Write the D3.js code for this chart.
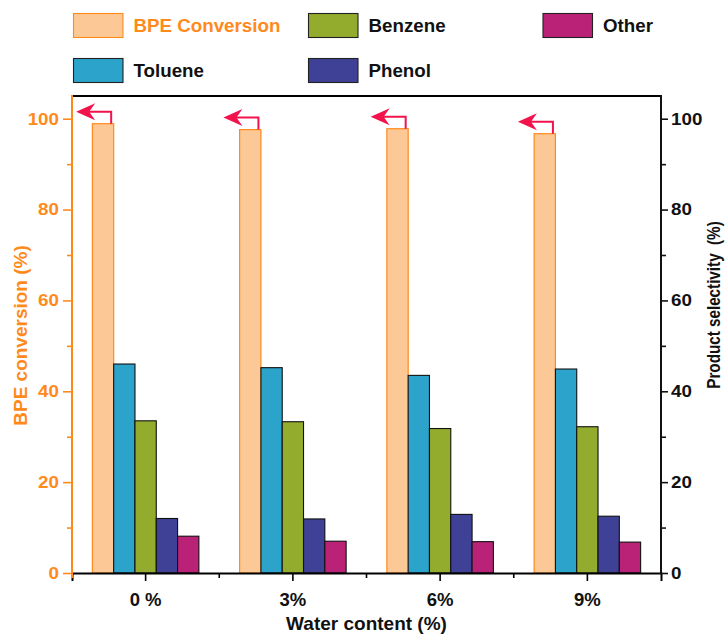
<!DOCTYPE html>
<html>
<head>
<meta charset="utf-8">
<script src="https://cdn.jsdelivr.net/npm/d3@7"></script>
<style>
  html, body { margin: 0; padding: 0; background: #fff; }
  svg text { font-family: "Liberation Sans", Arial, Helvetica, sans-serif; font-weight: bold; }
</style>
</head>
<body>
<svg id="chart" width="725" height="634"></svg>
<script>
// Water content levels (x categories)
const categories = ["0 %", "3%", "6%", "9%"];

// BPE conversion (%), left axis
const conversion = [98.9, 97.6, 97.8, 96.7];

// Product selectivity (%), right axis
const toluene = [46.0, 45.2, 43.5, 44.9];
const benzene = [33.5, 33.3, 31.8, 32.2];
const phenol  = [12.0, 11.9, 12.9, 12.5];
const other   = [8.1, 7.0, 6.9, 6.8];

const seriesNames = ["BPE Conversion", "Toluene", "Benzene", "Phenol", "Other"];
const majorTicks = [0, 20, 40, 60, 80, 100];
const minorTicks = [10, 30, 50, 70, 90];

const xTitle = "Water content (%)";
const leftTitle = "BPE conversion (%)";
const rightTitle = "Product selectivity  (%)";

const colors = {
  "BPE Conversion": "#FCC996",
  "Toluene": "#2BA3CB",
  "Benzene": "#93AC2D",
  "Phenol": "#3E4196",
  "Other": "#BA2277"
};
const orange = "#FF8A1C";
const arrowRed = "#F2124C";

const svg = d3.select("#chart");
const plot = { left: 72, right: 661, top: 96, bottom: 573 };

// Scales
const x0 = d3.scaleBand().domain(categories).range([plot.left, plot.right]).padding(0);
const bw = x0.bandwidth();
const halfGroup = 53.25;
const x1 = d3.scaleBand().domain(seriesNames).range([bw / 2 - halfGroup, bw / 2 + halfGroup]).padding(0);
const yL = d3.scaleLinear().domain([0, 105]).range([plot.bottom, plot.top]);
const yR = d3.scaleLinear().domain([0, 105]).range([plot.bottom, plot.top]);

// Horizontally stretched text helper
function stretch(sel, sx) {
  sel.each(function () {
    const t = d3.select(this);
    const x = +t.attr("x") || 0;
    t.attr("x", x / sx).attr("transform", `scale(${sx},1)`);
  });
}

// Rows of values per group
const rows = categories.map((c, i) => ({
  cat: c,
  values: [
    { key: "BPE Conversion", v: conversion[i], scale: yL },
    { key: "Toluene", v: toluene[i], scale: yR },
    { key: "Benzene", v: benzene[i], scale: yR },
    { key: "Phenol", v: phenol[i], scale: yR },
    { key: "Other", v: other[i], scale: yR }
  ]
}));

// Bars
const groups = svg.append("g").selectAll("g").data(rows).join("g")
  .attr("transform", d => `translate(${x0(d.cat)},0)`);

groups.selectAll("rect").data(d => d.values).join("rect")
  .attr("x", d => x1(d.key))
  .attr("y", d => d.scale(d.v))
  .attr("width", x1.bandwidth())
  .attr("height", d => plot.bottom - d.scale(d.v))
  .attr("fill", d => colors[d.key])
  .attr("stroke", d => d.key === "BPE Conversion" ? orange : "#111")
  .attr("stroke-width", d => d.key === "BPE Conversion" ? 1.2 : 1.1);

// Arrows pointing from conversion bars to the left axis
const arrows = groups.append("g").attr("class", "arrow");
arrows.each(function (d) {
  const g = d3.select(this);
  const v = d.values[0];
  const xr = x1(v.key) + x1.bandwidth() - 2.5;
  const yt = yL(v.v);
  const yh = yt - 12;
  const tip = xr - 35;
  g.append("path")
    .attr("d", `M${xr},${yt} V${yh} H${tip + 12}`)
    .attr("fill", "none").attr("stroke", arrowRed).attr("stroke-width", 2);
  g.append("path")
    .attr("d", `M${tip},${yh} L${tip + 19},${yh - 8.5} L${tip + 13},${yh} L${tip + 19},${yh + 8.5} Z`)
    .attr("fill", arrowRed);
});

// Top frame line
svg.append("line")
  .attr("x1", plot.left).attr("x2", plot.right)
  .attr("y1", plot.top).attr("y2", plot.top)
  .attr("stroke", "#000").attr("stroke-width", 2);

// Bottom axis
const xAxis = svg.append("g").attr("transform", `translate(0,${plot.bottom})`)
  .call(d3.axisBottom(x0).tickSizeOuter(0).tickSize(8).tickPadding(12));
xAxis.select(".domain").attr("stroke", "#000").attr("stroke-width", 2);
xAxis.selectAll(".tick line").attr("stroke", "#000").attr("stroke-width", 1.6);
xAxis.selectAll(".tick text").attr("font-size", 18.5).attr("fill", "#111").attr("dy", "0.71em");
// minor ticks at group boundaries
svg.append("g").selectAll("line").data(categories.slice(1)).join("line")
  .attr("x1", d => x0(d)).attr("x2", d => x0(d))
  .attr("y1", plot.bottom).attr("y2", plot.bottom + 5)
  .attr("stroke", "#000").attr("stroke-width", 1.6);

// Left axis (orange)
const left = svg.append("g").attr("transform", `translate(${plot.left},0)`);
left.call(d3.axisLeft(yL).tickValues(majorTicks).tickSize(9).tickSizeOuter(0).tickPadding(4));
left.select(".domain").remove();
left.selectAll(".tick line").attr("stroke", orange).attr("stroke-width", 1.6);
left.selectAll(".tick text").attr("font-size", 16.5).attr("fill", orange).call(stretch, 1.14);
const leftMinor = svg.append("g").attr("transform", `translate(${plot.left},0)`)
  .call(d3.axisLeft(yL).tickValues(minorTicks).tickSize(5).tickFormat(""));
leftMinor.select(".domain").remove();
leftMinor.selectAll(".tick line").attr("stroke", orange).attr("stroke-width", 1.6);
svg.append("line")
  .attr("x1", plot.left).attr("x2", plot.left)
  .attr("y1", plot.top - 1).attr("y2", plot.bottom + 5)
  .attr("stroke", orange).attr("stroke-width", 2);

// Right axis (black)
const right = svg.append("g").attr("transform", `translate(${plot.right},0)`);
right.call(d3.axisRight(yR).tickValues(majorTicks).tickSize(7).tickSizeOuter(0).tickPadding(3));
right.select(".domain").remove();
right.selectAll(".tick line").attr("stroke", "#111").attr("stroke-width", 1.6);
right.selectAll(".tick text").attr("font-size", 16.5).attr("fill", "#111").call(stretch, 1.14);
const rightMinor = svg.append("g").attr("transform", `translate(${plot.right},0)`)
  .call(d3.axisRight(yR).tickValues(minorTicks).tickSize(5).tickFormat(""));
rightMinor.select(".domain").remove();
rightMinor.selectAll(".tick line").attr("stroke", "#111").attr("stroke-width", 1.6);
svg.append("line")
  .attr("x1", plot.right).attr("x2", plot.right)
  .attr("y1", plot.top - 1).attr("y2", plot.bottom + 1)
  .attr("stroke", "#111").attr("stroke-width", 2);

// Axis titles
svg.append("text")
  .attr("transform", `translate(${(plot.left + plot.right) / 2},630)`)
  .attr("text-anchor", "middle").attr("font-size", 19).attr("fill", "#111")
  .text(xTitle);
svg.append("text")
  .attr("transform", "translate(26.5,335.5) rotate(-90)")
  .attr("text-anchor", "middle").attr("font-size", 19).attr("fill", orange)
  .text(leftTitle);
svg.append("text")
  .attr("transform", "translate(719.5,305) rotate(-90) scale(0.87,1)")
  .attr("text-anchor", "middle").attr("font-size", 17.5).attr("fill", "#111")
  .style("white-space", "pre")
  .text(rightTitle);

// Legend
const legendItems = [
  { key: "BPE Conversion", col: 0, row: 0 },
  { key: "Benzene", col: 1, row: 0 },
  { key: "Other", col: 2, row: 0 },
  { key: "Toluene", col: 0, row: 1 },
  { key: "Phenol", col: 1, row: 1 }
];
const colX = [73.5, 308.5, 543];
const rowY = [13.5, 58.5];
const legend = svg.append("g").selectAll("g").data(legendItems).join("g")
  .attr("transform", d => `translate(${colX[d.col]},${rowY[d.row]})`);
legend.append("rect")
  .attr("width", 49.5).attr("height", 24)
  .attr("fill", d => colors[d.key])
  .attr("stroke", d => d.key === "BPE Conversion" ? orange : "#222")
  .attr("stroke-width", 1.1);
legend.append("g").attr("transform", "translate(60,18.2)")
  .append("text")
  .attr("font-size", 17.7)
  .attr("fill", d => d.key === "BPE Conversion" ? orange : "#111")
  .attr("transform", "scale(1.06,1)")
  .text(d => d.key);
</script>
</body>
</html>
